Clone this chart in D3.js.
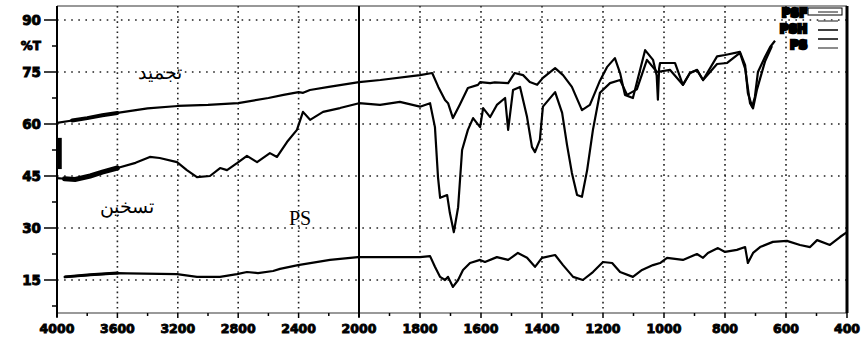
<!DOCTYPE html>
<html>
<head>
<meta charset="utf-8">
<script src="https://cdn.jsdelivr.net/npm/d3@7"></script>
<style>
  body { margin: 0; background: #fff; }
  svg { display: block; }
  .num { font-family: "DejaVu Sans", "Liberation Sans", sans-serif; font-weight: bold; font-size: 13.5px; fill: #000; stroke: #000; stroke-width: 0.9px; }
  .lbl { font-family: "Liberation Serif", "Times New Roman", serif; fill: #000; }
</style>
</head>
<body>
<svg></svg>
<script>
// wavenumber (cm-1), %T
var freezeData = [
  [4000, 60.3], [3900, 61.0], [3800, 61.7], [3700, 62.5], [3600, 63.2], [3400, 64.5],
  [3200, 65.2], [3000, 65.5], [2800, 66.0], [2600, 67.5], [2500, 68.4], [2400, 69.2],
  [2370, 69.0], [2325, 69.8], [2200, 70.7], [2000, 72.1], [1930, 72.7], [1800, 74.1],
  [1760, 74.7], [1740, 70.7], [1718, 66.9], [1708, 66.0], [1692, 61.7], [1670, 65.5],
  [1643, 70.4], [1610, 71.3], [1603, 72.1], [1570, 71.8], [1555, 72.0], [1511, 71.8],
  [1490, 74.7], [1462, 74.1], [1440, 72.1], [1416, 71.3], [1397, 73.3], [1357, 76.1],
  [1331, 74.1], [1302, 70.7], [1269, 64.0], [1243, 65.5], [1210, 72.5], [1187, 76.4],
  [1161, 79.0], [1144, 74.7], [1128, 68.4], [1102, 67.5], [1089, 72.0], [1062, 81.3],
  [1036, 78.5], [1024, 74.0], [1020, 67.0], [1016, 76.0], [1013, 77.6], [964, 77.6],
  [938, 71.3], [915, 74.7], [892, 75.6], [872, 72.7], [826, 79.5], [800, 79.9],
  [751, 80.8], [734, 77.0], [725, 68.9], [711, 65.0], [702, 67.8], [692, 75.0],
  [669, 79.3], [652, 82.2], [636, 84.0]
];
var heatData = [
  [4000, 44.4], [3950, 44.2], [3880, 44.0], [3780, 45.0], [3700, 46.1], [3600, 47.3],
  [3480, 48.8], [3385, 50.5], [3320, 50.2], [3205, 49.0], [3140, 46.7], [3073, 44.7],
  [2987, 45.0], [2920, 47.3], [2874, 46.7], [2808, 48.7], [2742, 50.8], [2675, 49.0],
  [2590, 51.6], [2543, 50.5], [2477, 54.8], [2411, 58.3], [2371, 63.5], [2324, 61.2],
  [2238, 63.5], [2126, 64.6], [2000, 66.0], [1931, 65.5], [1866, 66.4], [1800, 65.0],
  [1767, 66.0], [1751, 59.1], [1741, 44.7], [1734, 38.7], [1711, 39.5], [1702, 34.3],
  [1689, 28.8], [1675, 36.0], [1662, 52.5], [1643, 58.3], [1626, 61.7], [1603, 59.1],
  [1593, 64.6], [1570, 62.0], [1548, 65.5], [1521, 67.5], [1511, 58.3], [1495, 69.8],
  [1472, 70.7], [1449, 62.0], [1433, 53.4], [1423, 51.9], [1407, 55.4], [1397, 65.0],
  [1357, 69.2], [1334, 63.2], [1318, 54.0], [1302, 45.9], [1285, 39.5], [1269, 39.0],
  [1252, 46.7], [1233, 58.3], [1210, 69.0], [1177, 71.8], [1144, 72.7], [1121, 68.4],
  [1089, 70.0], [1056, 78.5], [1023, 75.0], [980, 75.6], [938, 71.3], [915, 74.7],
  [892, 75.6], [872, 72.7], [826, 77.3], [793, 77.6], [751, 80.5], [734, 76.0],
  [718, 66.0], [708, 64.5], [695, 70.0], [669, 78.0], [646, 82.5]
];
var psData = [
  [3947, 15.9], [3780, 16.5], [3600, 17.0], [3536, 16.9], [3205, 16.7], [3073, 15.9],
  [2920, 15.9], [2808, 16.7], [2742, 17.3], [2669, 17.0], [2569, 17.6], [2523, 18.2],
  [2404, 19.3], [2192, 20.8], [2007, 21.6], [1800, 21.6], [1767, 21.9], [1751, 18.8],
  [1734, 15.9], [1718, 15.0], [1708, 15.9], [1692, 13.0], [1675, 15.0], [1659, 17.9],
  [1636, 19.9], [1603, 20.8], [1587, 20.2], [1548, 21.6], [1511, 20.8], [1479, 22.8],
  [1449, 21.4], [1423, 18.8], [1400, 21.4], [1357, 22.2], [1331, 19.3], [1298, 15.9],
  [1266, 15.0], [1233, 17.3], [1200, 20.2], [1170, 19.9], [1144, 17.3], [1102, 15.9],
  [1072, 17.9], [1036, 19.3], [1013, 19.9], [990, 21.4], [938, 20.8], [892, 22.5],
  [872, 21.4], [856, 22.8], [823, 24.2], [800, 23.1], [761, 23.7], [734, 24.5],
  [725, 19.9], [708, 22.8], [685, 24.5], [643, 26.0], [597, 26.3], [554, 25.1],
  [521, 24.5], [498, 26.5], [456, 25.1], [423, 27.4], [400, 28.8]
];
var xTicks = [4000, 3600, 3200, 2800, 2400, 2000, 1800, 1600, 1400, 1200, 1000, 800, 600, 400];
var xMinor = [3800, 3400, 3000, 2600, 2200, 1900, 1700, 1500, 1300, 1100, 900, 700, 500];
var yTicks = [15, 30, 45, 60, 75, 90];
var yMinor = [7.5, 22.5, 37.5, 52.5, 67.5, 82.5];
var legendRows = ['PSF', 'PSH', 'PS'];

var W = 862, H = 339;
var x = d3.scaleLinear().domain([4000, 2000, 400]).range([57, 359, 847]);
var y = d3.scaleLinear().domain([15, 90]).range([280, 20]);
var yTop = 6, yBottom = 313;

var svg = d3.select('svg').attr('width', W).attr('height', H);

// dotted grid
svg.selectAll('line.hgrid').data(yTicks).enter().append('line')
  .attr('x1', x(4000)).attr('x2', x(400))
  .attr('y1', function(d) { return y(d); }).attr('y2', function(d) { return y(d); })
  .attr('stroke', '#222').attr('stroke-width', 1.6).attr('stroke-dasharray', '1.6,5.5');
svg.selectAll('line.vgrid').data(xTicks.filter(function(d) { return d !== 4000 && d !== 2000 && d !== 400; }))
  .enter().append('line')
  .attr('x1', function(d) { return x(d); }).attr('x2', function(d) { return x(d); })
  .attr('y1', yTop).attr('y2', yBottom)
  .attr('stroke', '#222').attr('stroke-width', 1.6).attr('stroke-dasharray', '1.6,3.5');

// frame
svg.append('line').attr('x1', x(4000)).attr('x2', x(400)).attr('y1', yTop).attr('y2', yTop)
  .attr('stroke', '#333').attr('stroke-width', 1.2);
svg.append('line').attr('x1', x(4000)).attr('x2', x(400)).attr('y1', yBottom).attr('y2', yBottom)
  .attr('stroke', '#777').attr('stroke-width', 1.6);
svg.append('line').attr('x1', x(4000)).attr('x2', x(4000)).attr('y1', yTop).attr('y2', yBottom + 4)
  .attr('stroke', '#000').attr('stroke-width', 2);
svg.append('line').attr('x1', x(400)).attr('x2', x(400)).attr('y1', yTop).attr('y2', yBottom)
  .attr('stroke', '#000').attr('stroke-width', 3);
svg.append('line').attr('x1', x(2000)).attr('x2', x(2000)).attr('y1', yTop).attr('y2', yBottom + 4)
  .attr('stroke', '#000').attr('stroke-width', 2);

// y axis ticks and labels
svg.selectAll('line.ytick').data(yTicks).enter().append('line')
  .attr('x1', x(4000) - 13).attr('x2', x(4000))
  .attr('y1', function(d) { return y(d); }).attr('y2', function(d) { return y(d); })
  .attr('stroke', '#000').attr('stroke-width', 1.5);
svg.selectAll('line.yminor').data(yMinor).enter().append('line')
  .attr('x1', x(4000) - 5).attr('x2', x(4000))
  .attr('y1', function(d) { return y(d); }).attr('y2', function(d) { return y(d); })
  .attr('stroke', '#000').attr('stroke-width', 1.5);
svg.selectAll('text.ylab').data(yTicks).enter().append('text')
  .attr('class', 'num').attr('x', 41).attr('y', function(d) { return y(d); })
  .attr('dy', '0.36em').attr('text-anchor', 'end')
  .text(function(d) { return d; });
svg.append('text').attr('class', 'num').attr('x', 41).attr('y', y(82.5))
  .attr('dy', '0.36em').attr('text-anchor', 'end').style('font-size', '12px').text('%T');

// x axis ticks and labels
svg.selectAll('line.xtick').data(xTicks).enter().append('line')
  .attr('x1', function(d) { return x(d); }).attr('x2', function(d) { return x(d); })
  .attr('y1', yBottom).attr('y2', yBottom + 5)
  .attr('stroke', '#000').attr('stroke-width', 1.5);
svg.selectAll('line.xminor').data(xMinor).enter().append('line')
  .attr('x1', function(d) { return x(d); }).attr('x2', function(d) { return x(d); })
  .attr('y1', yBottom).attr('y2', yBottom + 3)
  .attr('stroke', '#000').attr('stroke-width', 1.5);
svg.selectAll('text.xlab').data(xTicks).enter().append('text')
  .attr('class', 'num').attr('x', function(d) { return x(d); }).attr('y', 333)
  .attr('text-anchor', 'middle').style('font-size', '12.5px')
  .text(function(d) { return d; });

// spectra
var line = d3.line()
  .x(function(d) { return x(d[0]); })
  .y(function(d) { return y(d[1]); });
[freezeData, heatData, psData].forEach(function(data) {
  svg.append('path').attr('d', line(data))
    .attr('fill', 'none').attr('stroke', '#000').attr('stroke-width', 2.2)
    .attr('stroke-linejoin', 'round');
});
// thick ink near the start of the scans
var thick = function(data, hi, lo, w) {
  svg.append('path').attr('d', line(data.filter(function(d) { return d[0] <= hi && d[0] >= lo; })))
    .attr('fill', 'none').attr('stroke', '#000').attr('stroke-width', w)
    .attr('stroke-linecap', 'round');
};
thick(freezeData, 3900, 3600, 4);
thick(heatData, 3950, 3600, 5);
thick(psData, 3947, 3600, 3);
svg.append('line').attr('x1', x(3985)).attr('x2', x(3985)).attr('y1', y(56)).attr('y2', y(47))
  .attr('stroke', '#000').attr('stroke-width', 5);

// legend remnants (top right)
svg.selectAll('text.leg').data(legendRows).enter().append('text')
  .attr('class', 'num').attr('x', x(530)).attr('y', function(d, i) { return 17 + i * 16; })
  .attr('text-anchor', 'end').style('font-size', '12px').style('stroke-width', '2.5px')
  .text(function(d) { return d; });
svg.append('rect').attr('x', 808).attr('y', 8).attr('width', 34).attr('height', 7)
  .attr('fill', 'none').attr('stroke', '#000').attr('stroke-width', 1);
[12, 21, 30, 39, 48].forEach(function(yy, i) {
  svg.append('line').attr('x1', 818).attr('x2', 838).attr('y1', yy).attr('y2', yy)
    .attr('stroke', i === 2 || i === 3 ? '#000' : '#666').attr('stroke-width', 1.5);
});

// curve labels
svg.append('text').attr('class', 'lbl').attr('x', 160).attr('y', 79)
  .attr('text-anchor', 'middle').style('font-size', '19px').text('تجميد');
svg.append('text').attr('class', 'lbl').attr('x', 127).attr('y', 213)
  .attr('text-anchor', 'middle').style('font-size', '19px').text('تسخين');
svg.append('text').attr('class', 'lbl').attr('x', 300).attr('y', 225)
  .attr('text-anchor', 'middle').style('font-size', '20px').text('PS');
</script>
</body>
</html>
